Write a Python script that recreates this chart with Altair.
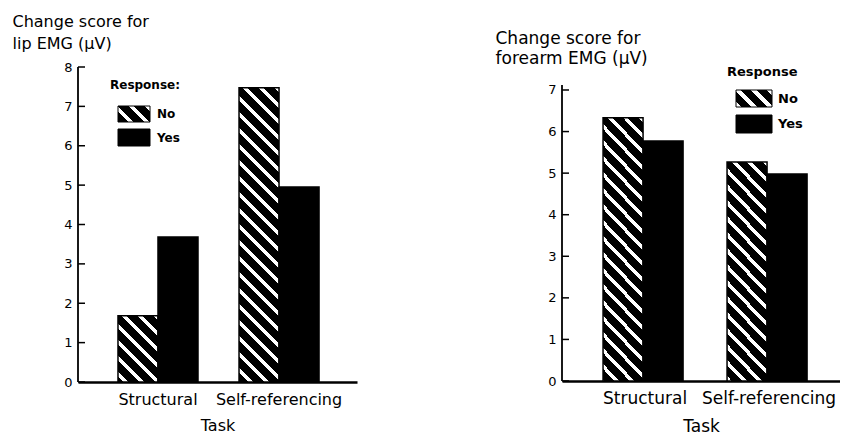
import altair as alt
import pandas as pd

# ---- data ----
tasks = ["Structural", "Self-referencing"]
responses = ["No", "Yes"]
lip_no = [1.68, 7.47]
lip_yes = [3.68, 4.95]
forearm_no = [6.33, 5.27]
forearm_yes = [5.77, 4.98]
lip_ticks = [0, 1, 2, 3, 4, 5, 6, 7, 8]
forearm_ticks = [0, 1, 2, 3, 4, 5, 6, 7]

FONT = "DejaVu Sans"


def hatch(w, h, period=16.0, white=0.32, s=1.0):
    """Linear gradient (bbox units) that draws '\\' stripes at slope s."""
    b = 1.0 / (h + s * w)
    c = s * w * b
    A = -s * w * b
    B = h * b
    n2 = A * A + B * B
    x1 = -c * A / n2
    y1 = -c * B / n2
    x2 = x1 + A / n2
    y2 = y1 + B / n2
    dt = period * b
    stops = []
    k = 0
    while k * dt < 1:
        t0 = k * dt
        t1 = min(1.0, t0 + white * dt)
        t2 = min(1.0, (k + 1) * dt)
        stops += [
            {"offset": t0, "color": "white"},
            {"offset": t1, "color": "white"},
            {"offset": t1, "color": "black"},
            {"offset": t2, "color": "black"},
        ]
        k += 1
    return {"gradient": "linear", "x1": x1, "y1": y1, "x2": x2, "y2": y2, "stops": stops}


def panel(no_vals, yes_vals, ticks, title_lines, width, height, ymax, axis_top,
          bar_w, pad_inner, pad_outer, align, title_size, title_x, title_y, title_lh,
          lab_size, task_pad, legend):
    df = pd.DataFrame({
        "Task": tasks * 2,
        "Response": [responses[0]] * 2 + [responses[1]] * 2,
        "value": no_vals + yes_vals,
    })
    px = height / ymax
    conds = [
        {"test": f"datum.Task === '{t}' && datum.Response === 'No'",
         "value": hatch(bar_w, v * px)}
        for t, v in zip(tasks, no_vals)
    ]
    yscale = alt.Scale(domain=[0, ymax], nice=False, zero=True)
    yaxis = alt.Axis(values=ticks, format="d", domain=False, ticks=False, tickSize=0,
                     labelFontSize=13, labelPadding=6, labelColor="black",
                     title=title_lines, titleAngle=0, titleAlign="left",
                     titleBaseline="alphabetic", titleX=title_x, titleY=title_y,
                     titleFontSize=title_size, titleFontWeight="normal",
                     titleColor="black", titleLineHeight=title_lh)
    x = alt.X("Task:N", sort=tasks,
              scale=alt.Scale(paddingInner=pad_inner, paddingOuter=pad_outer, align=align),
              axis=alt.Axis(title="Task", domainWidth=2.5, domainColor="black", ticks=False,
                            labelAngle=0, labelFontSize=lab_size, labelPadding=9,
                            labelColor="black", titleFontSize=lab_size, titleFontWeight="normal",
                            titleColor="black", titlePadding=task_pad))
    bars = alt.Chart(df).mark_bar(stroke="black", strokeWidth=1.5).encode(
        x=x,
        xOffset=alt.XOffset("Response:N", sort=responses,
                            scale=alt.Scale(paddingInner=0, paddingOuter=0)),
        y=alt.Y("value:Q", scale=yscale, axis=yaxis),
        fill={"condition": conds, "value": "black"},
    )
    tick_rules = alt.Chart(pd.DataFrame({"value": ticks})).mark_rule(
        color="black", strokeWidth=1.5).encode(
        y=alt.Y("value:Q", scale=yscale, axis=yaxis), x=alt.value(0), x2=alt.value(7))
    axis_line = alt.Chart(pd.DataFrame({"value": [0], "top": [axis_top]})).mark_rule(
        color="black", strokeWidth=1.8).encode(
        y=alt.Y("value:Q", scale=yscale, axis=yaxis), y2="top:Q", x=alt.value(0))

    dummy = pd.DataFrame({"a": [0]})
    (hx, hy), (sx0, sx1), sw_rows, (tx,), fs_head, fs_item, head_text = legend
    layers = [bars, tick_rules, axis_line]
    layers.append(alt.Chart(dummy).mark_text(
        text=head_text, align="left", baseline="alphabetic", font=FONT,
        fontWeight="bold", fontSize=fs_head, color="black").encode(
        x=alt.value(hx), y=alt.value(hy)))
    for resp, (y0, y1) in zip(responses, sw_rows):
        fill = hatch(sx1 - sx0, y1 - y0) if resp == "No" else "black"
        layers.append(alt.Chart(dummy).mark_rect(fill=fill, stroke="black", strokeWidth=1).encode(
            x=alt.value(sx0), x2=alt.value(sx1), y=alt.value(y0), y2=alt.value(y1)))
        layers.append(alt.Chart(dummy).mark_text(
            text=resp, align="left", baseline="middle", font=FONT, fontWeight="bold",
            fontSize=fs_item, color="black").encode(
            x=alt.value(tx), y=alt.value((y0 + y1) / 2)))
    return alt.layer(*layers).properties(width=width, height=height)


left = panel(lip_no, lip_yes, lip_ticks, ["Change score for", "lip EMG (\u00b5V)"],
             width=279, height=315, ymax=8, axis_top=8, bar_w=40,
             pad_inner=0.339, pad_outer=0.322, align=0.513,
             title_size=16, title_x=-66, title_y=-41, title_lh=22, lab_size=16, task_pad=10,
             legend=((32, 22), (40, 72), [(39, 55), (62, 79)], (79,), 12, 12, "Response:"))

right = panel(forearm_no, forearm_yes, forearm_ticks, ["Change score for", "forearm EMG (\u00b5V)"],
              width=278, height=314, ymax=7.553, axis_top=7.12, bar_w=42,
              pad_inner=0.323, pad_outer=0.2825, align=0.586,
              title_size=17, title_x=-67, title_y=-24, title_lh=20, lab_size=17, task_pad=12,
              legend=((165, 9), (174, 210), [(23, 40), (48, 66)], (216,), 13, 13, "Response"))

chart = alt.hconcat(left, right, spacing=138).properties(
    padding={"left": 4, "top": 5, "right": 0, "bottom": 0},
    background="white",
).configure_view(stroke=None).configure_axis(
    grid=False, labelFont=FONT, titleFont=FONT
)

chart.save("out.html", embed_options={"renderer": "svg", "actions": False})
